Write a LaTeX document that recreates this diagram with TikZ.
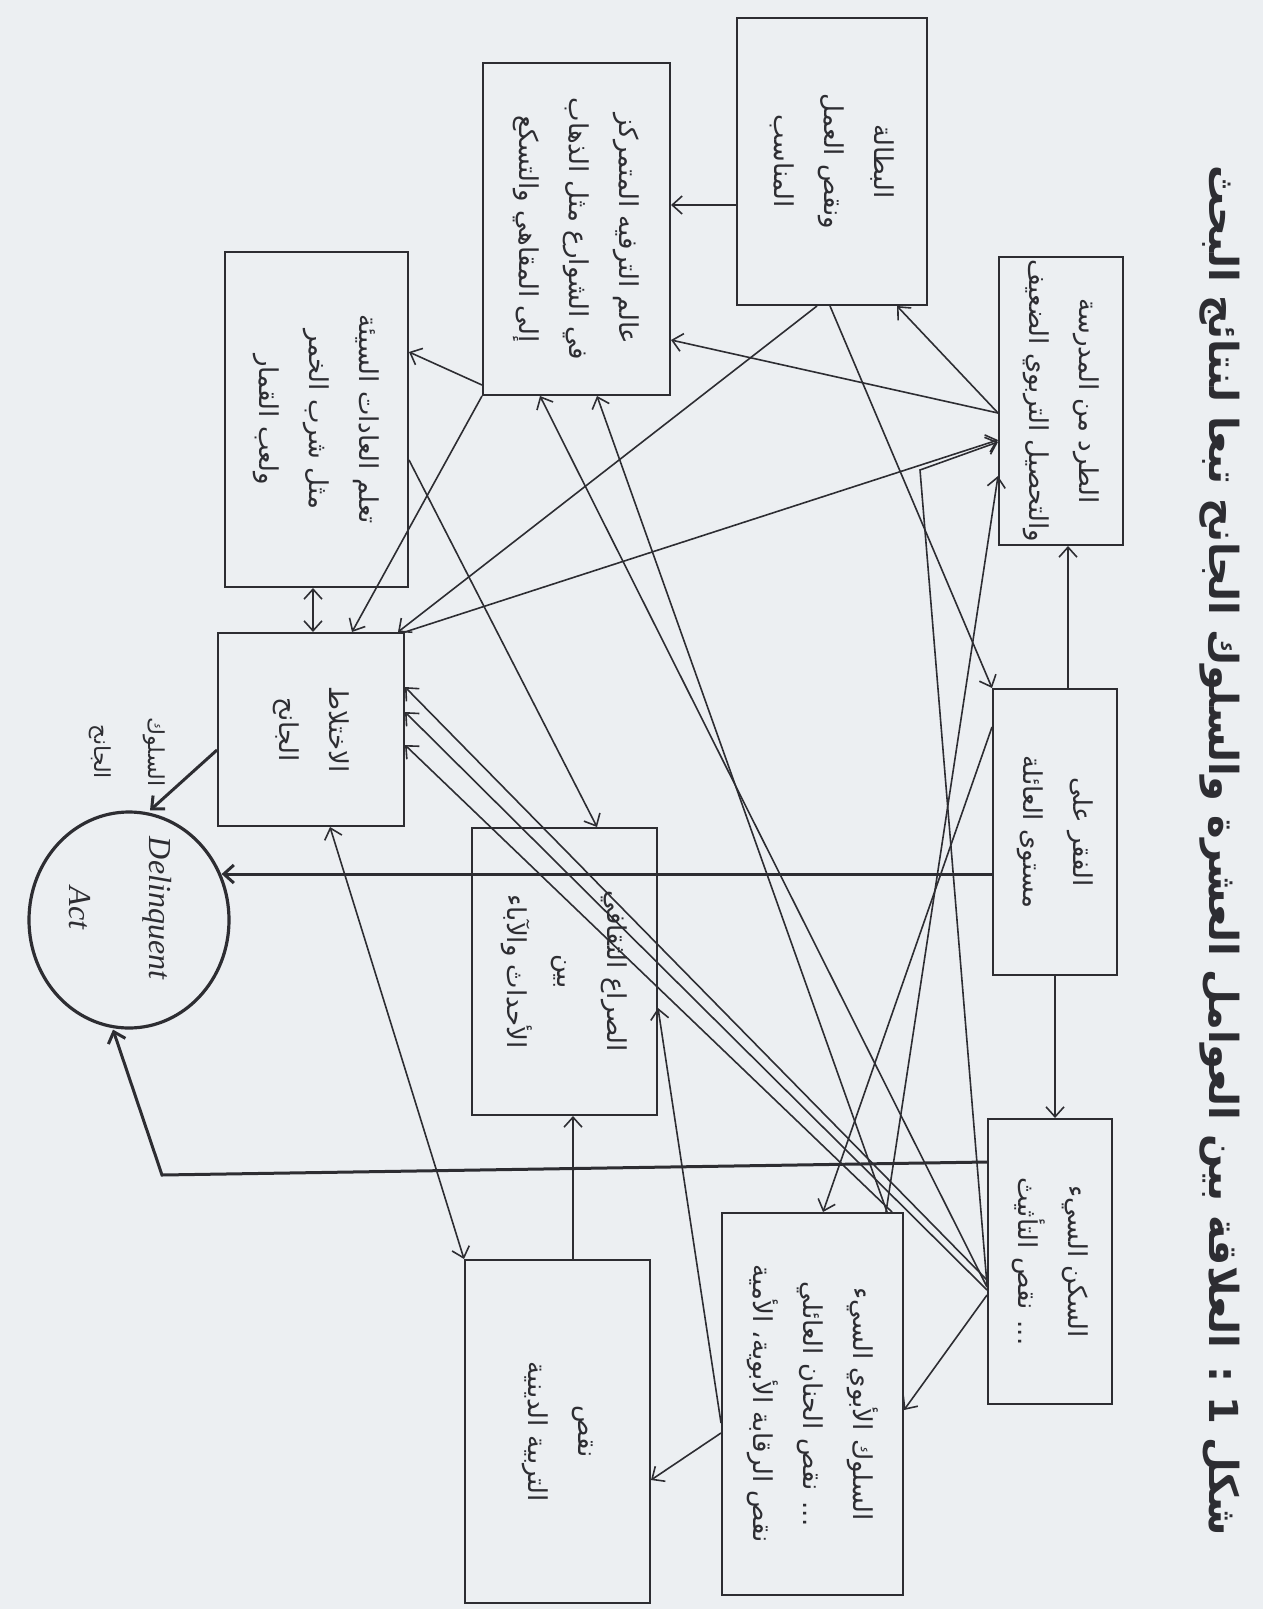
\documentclass[tikz,border=0pt]{standalone}
\usepackage{fontspec}
\usepackage{graphicx}
\usetikzlibrary{arrows.meta,calc,shapes.geometric}
\TeXXeTstate=1
\newfontfamily\arabicfont[Script=Arabic]{DejaVu Sans}
\newfontfamily\latinserif{Liberation Serif}
\definecolor{paper}{RGB}{236,239,242}
\definecolor{ink}{RGB}{45,45,50}
\tikzset{
  box/.style={draw=ink, line width=1pt, fill=paper, inner sep=0pt},
  txt/.style={rotate=-90, align=center, text=ink, font=\arabicfont\fontsize{13}{25}\selectfont},
  conn/.style={draw=ink, line width=0.8pt, -{Straight Barb[length=5pt,width=9pt]}},
  both/.style={draw=ink, line width=0.8pt, {Straight Barb[length=5pt,width=9pt]}-{Straight Barb[length=5pt,width=9pt]}},
  heavy/.style={conn, line width=1.5pt},
}
\newcommand\mkbox[5]{\node[box, minimum width={(#4-#2)*0.5pt}, minimum height={(#5-#3)*0.5pt}] (#1) at ({(#2+#4)/2},{(#3+#5)/2}) {};}
\begin{document}
\begin{tikzpicture}[x=0.5pt,y=-0.5pt]
\fill[paper] (0,0) rectangle (1263,1609);
\useasboundingbox (0,0) rectangle (1263,1609);

% title
\node[rotate=-90, text=ink, font=\arabicfont\bfseries\fontsize{20}{24}\selectfont] (T) at (1220,851)
  {\beginR شكل 1 : العلاقة بين العوامل العشرة والسلوك الجانح تبعا لنتائج البحث\endR};

% boxes
\mkbox{A}{737}{18}{927}{305}
\mkbox{B}{483}{63}{670}{395}
\mkbox{C}{225}{252}{408}{587}
\mkbox{D}{999}{257}{1123}{545}
\mkbox{E}{993}{689}{1117}{975}
\mkbox{F}{218}{633}{404}{826}
\mkbox{G}{472}{828}{657}{1115}
\mkbox{H}{988}{1119}{1112}{1404}
\mkbox{I}{722}{1213}{903}{1595}
\mkbox{J}{465}{1260}{650}{1603}
\node[draw=ink, line width=1.6pt, ellipse, minimum width=100pt, minimum height=108pt, inner sep=0pt] (K) at (129,920) {};

% texts
\node[txt] (At) at (A.center) {\beginR البطالة\endR\\\beginR ونقص العمل\endR\\\beginR المناسب\endR};
\node[txt] (Bt) at (B.center) {\beginR عالم الترفيه المتمركز\endR\\\beginR في الشوارع مثل الذهاب\endR\\\beginR إلى المقاهي والتسكع\endR};
\node[txt] (Ct) at (C.center) {\beginR تعلم العادات السيئة\endR\\\beginR مثل شرب الخمر\endR\\\beginR ولعب القمار\endR};
\node[txt] (Dt) at (D.center) {\beginR الطرد من المدرسة\endR\\\beginR والتحصيل التربوي الضعيف\endR};
\node[txt] (Et) at (E.center) {\beginR الفقر على\endR\\\beginR مستوى العائلة\endR};
\node[txt] (Ft) at (F.center) {\beginR الاختلاط\endR\\\beginR الجانح\endR};
\node[txt] (Gt) at (G.center) {\beginR الصراع الثقافي\endR\\\beginR بين\endR\\\beginR الأحداث والآباء\endR};
\node[txt] (Ht) at (H.center) {\beginR السكن السيء\endR\\\beginR ... نقص التأثيث\endR};
\node[txt] (It) at (I.center) {\beginR السلوك الأبوي السيء\endR\\\beginR ... نقص الحنان العائلي\endR\\\beginR نقص الرقابة الأبوية، الأمية\endR};
\node[txt] (Jt) at (J.center) {\beginR نقص\endR\\\beginR التربية الدينية\endR};
\node[rotate=-90, text=ink, font=\latinserif\itshape\fontsize{16}{18}\selectfont] (K1) at (157,908) {Delinquent};
\node[rotate=-90, text=ink, font=\latinserif\itshape\fontsize{16}{18}\selectfont] (K2) at (80,908) {Act};
\node[txt, font=\arabicfont\fontsize{11}{27}\selectfont] (Kl) at (127,752) {\beginR السلوك\endR\\\beginR الجانح\endR};

% connectors
\draw[conn] (A.west |- 0,205) -- (B.east |- 0,205);
\draw[conn] (D.west |- 0,413) -- (A.south -| 897,0);
\draw[conn] (D.west |- 0,413) -- (B.east |- 0,340);
\draw[conn] (F.north east) -- (D.west |- 0,440);
\draw[conn] (B.west |- 0,385) -- (C.east |- 0,352);
\draw[conn] (B.south west) -- (F.north -| 352,0);
\draw[conn] (A.south -| 817,0) -- (F.north -| 398,0);
\draw[conn] (A.south -| 830,0) -- (E.north west);
\draw[both] (C.south -| 313,0) -- (F.north -| 313,0);
\draw[conn] (E.north -| 1068,0) -- (D.south -| 1068,0);
\draw[conn] (E.south -| 1055,0) -- (H.north -| 1055,0);
\draw[heavy] (E.west |- 0,874) -- ($(K.east |- 0,874)+(-9,0)$);
\coordinate (hk) at (162,1175);
\draw[heavy] (H.west |- 0,1162) -- (hk) -- (K.south -| 113,0);
\draw[heavy] (F.west |- 0,750) -- (K.north -| 150,0);
\draw[conn] (C.east |- 0,460) -- (G.north -| 597,0);
\draw[conn] (J.north -| 573,0) -- (G.south -| 573,0);
\draw[conn] (I.west |- 0,1433) -- (J.east |- 0,1480);
\draw[both] (F.south -| 330,0) -- (J.north west);
\draw[conn] (I.north -| 886,0) -- (D.west |- 0,476);
\draw[conn] (E.west |- 0,727) -- (I.north -| 823,0);
\coordinate (hd) at (920,470);
\draw[conn] (H.west |- 0,1285) -- (hd) -- (D.west |- 0,442);
\draw[conn] (H.west |- 0,1280) -- (F.east |- 0,687);
\draw[conn] (H.west |- 0,1290) -- (F.east |- 0,712);
\draw[conn] (I.north -| 892,0) -- (F.east |- 0,745);
\draw[conn] (H.west |- 0,1287) -- (B.south -| 540,0);
\draw[conn] (I.north -| 887,0) -- (B.south -| 597,0);
\draw[conn] (H.west |- 0,1295) -- (I.east |- 0,1410);
\draw[conn] (I.west |- 0,1423) -- (G.east |- 0,1008);
\end{tikzpicture}
\end{document}
